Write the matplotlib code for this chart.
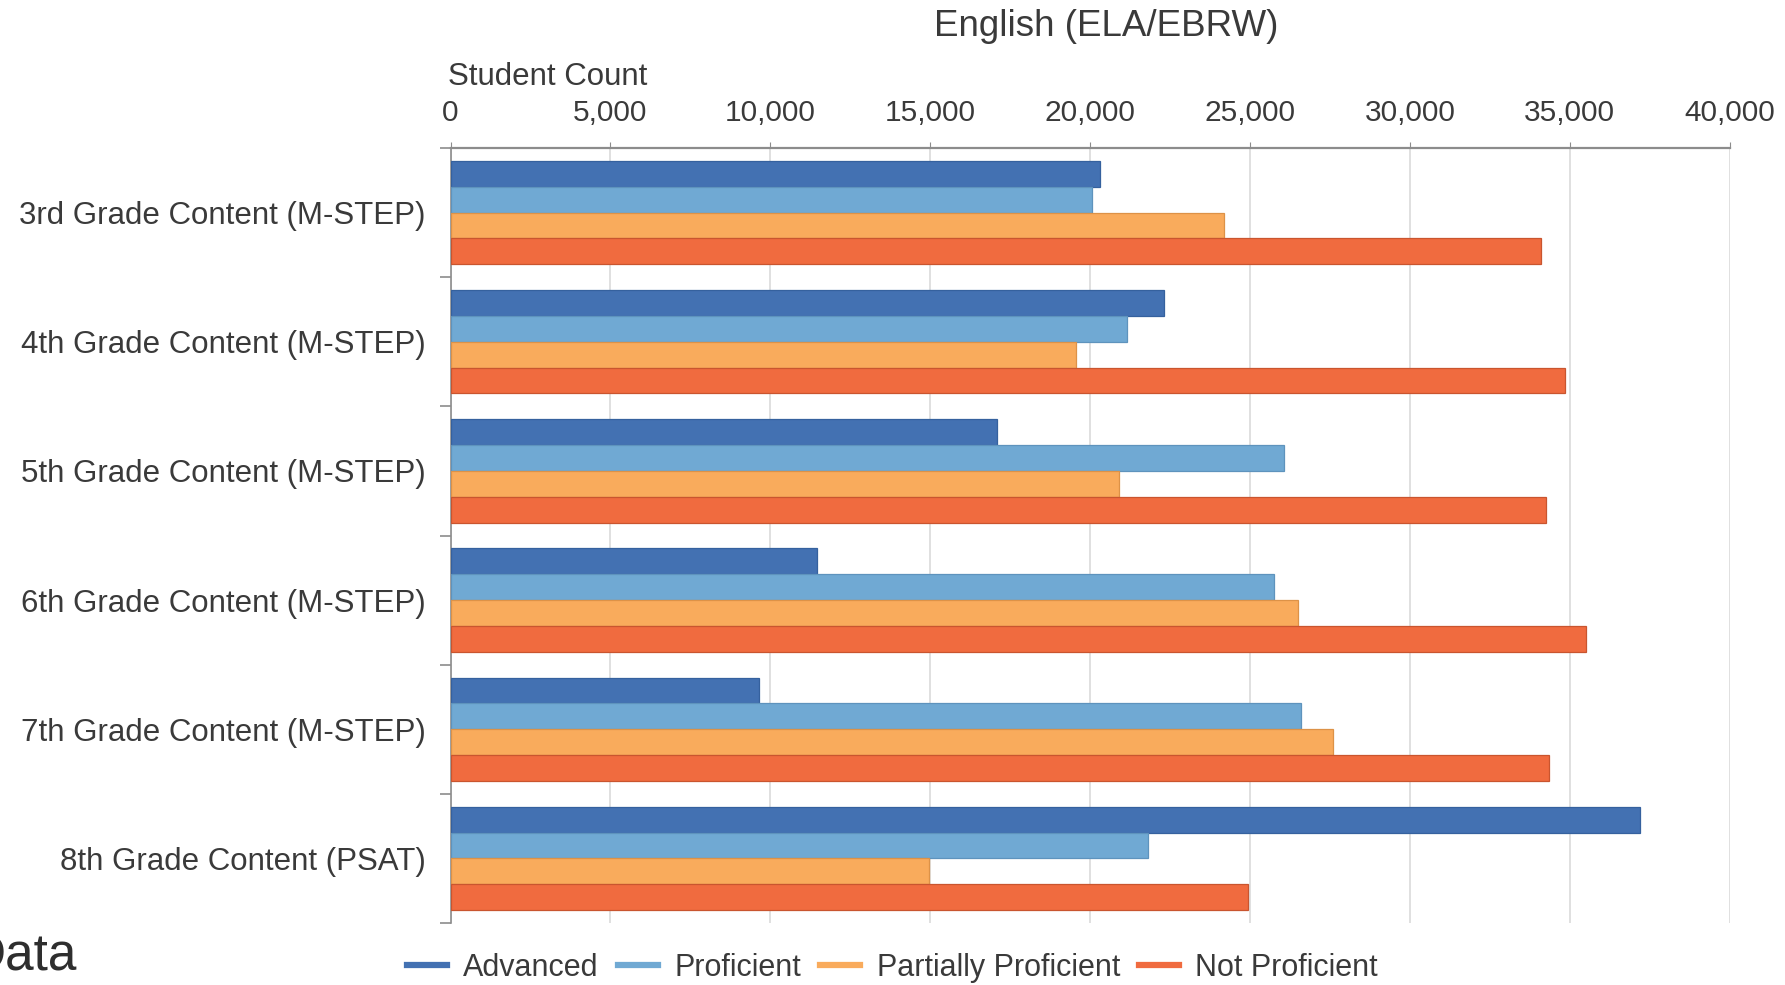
import numpy as np
import matplotlib
matplotlib.use("Agg")
import matplotlib.pyplot as plt
from matplotlib.lines import Line2D
from matplotlib.ticker import FuncFormatter, MultipleLocator

# Student counts by performance level, ELA/EBRW
grades = [
    "3rd Grade Content (M-STEP)",
    "4th Grade Content (M-STEP)",
    "5th Grade Content (M-STEP)",
    "6th Grade Content (M-STEP)",
    "7th Grade Content (M-STEP)",
    "8th Grade Content (PSAT)",
]
advanced = [20300, 22300, 17100, 11450, 9650, 37200]
proficient = [20050, 21150, 26050, 25750, 26600, 21800]
partially_proficient = [24200, 19550, 20900, 26500, 27600, 14950]
not_proficient = [34100, 34850, 34250, 35500, 34350, 24950]

levels = ["Advanced", "Proficient", "Partially Proficient", "Not Proficient"]
series = [advanced, proficient, partially_proficient, not_proficient]
colors = ["#4371B2", "#70A9D3", "#F9AB5C", "#F06B3F"]
edges = ["#35619E", "#5E93BD", "#DD9247", "#C9552F"]

text_col = "#3A3A3A"
axis_col = "#8C8C8C"
grid_col = "#DADADA"

plt.rcParams["font.family"] = ["Liberation Sans", "DejaVu Sans"]

fig = plt.figure(figsize=(17.85, 9.85), dpi=100)
ax = fig.add_axes([0.2524, 0.0629, 0.7166, 0.7868])

y = np.arange(len(grades))
h = 0.2
for k, vals in enumerate(series):
    ax.barh(y - 0.3 + k * h, vals, height=h, color=colors[k],
            edgecolor=edges[k], linewidth=0.9, zorder=3)

ax.set_xlim(0, 40000)
ax.set_ylim(len(grades) - 0.5, -0.5)

# x axis on top, thousands separators
ax.xaxis.set_major_locator(MultipleLocator(5000))
ax.xaxis.set_major_formatter(FuncFormatter(lambda v, p: f"{int(v):,}"))
ax.xaxis.tick_top()
ax.tick_params(axis="x", which="major", length=4, color=axis_col,
               labelsize=21.5, labelcolor=text_col, pad=11)
ax.grid(axis="x", color=grid_col, linewidth=1.2, zorder=0)

# category labels centred, ticks at group boundaries
ax.set_yticks(y)
ax.set_yticklabels(grades)
ax.set_yticks(np.arange(len(grades) + 1) - 0.5, minor=True)
ax.tick_params(axis="y", which="major", length=0, labelsize=22.5,
               labelcolor=text_col, pad=18)
ax.tick_params(axis="y", which="minor", length=8, width=1.2, color=axis_col)

for side in ["right", "bottom"]:
    ax.spines[side].set_visible(False)
ax.spines["top"].set_color(axis_col)
ax.spines["top"].set_linewidth(1.6)
ax.spines["left"].set_color(axis_col)
ax.spines["left"].set_linewidth(1.2)

fig.text(1106 / 1785, 1 - 26 / 985, "English (ELA/EBRW)", ha="center",
         va="center", fontsize=26.5, color=text_col)
fig.text(448 / 1785, 1 - 77 / 985, "Student Count", ha="left",
         va="center", fontsize=22.5, color=text_col)
fig.text(-31 / 1785, 15 / 985, "Data", ha="left", va="baseline",
         fontsize=37, color="#2E2E2E")

handles = [Line2D([0], [0], color=c, linewidth=4.5) for c in colors]
fig.legend(handles, levels, loc="center", bbox_to_anchor=(0.5, 1 - 968 / 985),
           ncol=4, frameon=False, fontsize=22, handlelength=1.3,
           handletextpad=0.55, columnspacing=0.62, labelcolor=text_col,
           borderaxespad=0, borderpad=0)

fig.savefig("out.png", dpi=100)
